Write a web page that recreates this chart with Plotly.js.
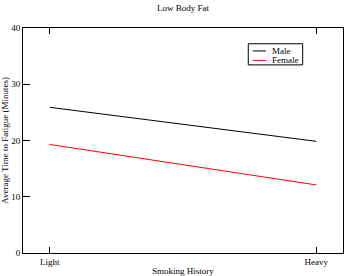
<!DOCTYPE html>
<html>
<head>
<meta charset="utf-8">
<script src="https://cdn.plot.ly/plotly-3.0.1.min.js"></script>
<style>html,body{margin:0;padding:0;background:#fff;}#chart{width:344px;height:276px;}</style>
</head>
<body>
<div id="chart"></div>
<script>
var categories = ["Light", "Heavy"];
var maleValues = [25.9, 19.85];
var femaleValues = [19.3, 12.1];
var seriesNames = ["Male", "Female"];
var seriesColors = ["#000000", "#ff0000"];
var yTicks = [0, 10, 20, 30, 40];

var font = {family: "Liberation Serif, Times New Roman, serif", size: 9, color: "#000"};

var traces = [
  {x: categories, y: maleValues, name: seriesNames[0], type: "scatter", mode: "lines",
   line: {color: seriesColors[0], width: 1}},
  {x: categories, y: femaleValues, name: seriesNames[1], type: "scatter", mode: "lines",
   line: {color: seriesColors[1], width: 1}}
];

// compact legend box (paper coordinates of the plot area)
var legBox = {x0: 0.704, x1: 0.874, y0: 0.836, y1: 0.930};
var legRowY = [0.898, 0.856];
var legLineX = [0.718, 0.759];
var legTextX = 0.773;

var shapes = [{type: "rect", xref: "paper", yref: "paper", x0: legBox.x0, x1: legBox.x1,
  y0: legBox.y0, y1: legBox.y1, line: {color: "#000", width: 1}, fillcolor: "#fff", layer: "above"}];
var annotations = [];
seriesNames.forEach(function (n, i) {
  shapes.push({type: "line", xref: "paper", yref: "paper", x0: legLineX[0], x1: legLineX[1],
    y0: legRowY[i], y1: legRowY[i], line: {color: seriesColors[i], width: 1}, layer: "above"});
  annotations.push({xref: "paper", yref: "paper", x: legTextX, y: legRowY[i], xanchor: "left",
    yanchor: "middle", text: n, showarrow: false, font: font});
});

var layout = {
  width: 344, height: 276,
  margin: {l: 23, r: 1, t: 28, b: 23, pad: 0},
  paper_bgcolor: "#fff", plot_bgcolor: "#fff",
  font: font,
  title: {text: "Low Body Fat", font: font, x: 0.532, xanchor: "center", y: 0.972, yanchor: "middle", yref: "container"},
  showlegend: false,
  shapes: shapes,
  annotations: annotations,
  xaxis: {type: "category", range: [-0.1, 1.1], showline: true, linecolor: "#000", linewidth: 1,
          mirror: "ticks", ticks: "inside", ticklen: 6, tickcolor: "#000", showgrid: false,
          zeroline: false, tickfont: font, automargin: false,
          title: {text: "Smoking History", font: font, standoff: 2}},
  yaxis: {range: [0, 40], tickvals: yTicks, showline: true, linecolor: "#000", linewidth: 1,
          mirror: true, ticks: "inside", ticklen: 7, tickcolor: "#000", showgrid: false,
          zeroline: false, tickfont: font, automargin: false,
          title: {text: "Average Time to Fatigue (Minutes)", font: font, standoff: 2}}
};

Plotly.newPlot("chart", traces, layout, {displayModeBar: false, staticPlot: true});
</script>
</body>
</html>
